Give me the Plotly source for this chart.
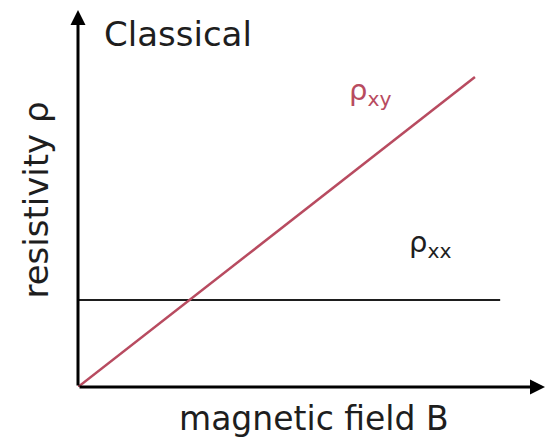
import plotly.graph_objects as go

# Field values and resistivities (arbitrary units)
field_xy = [0.0, 0.85]
rho_xy = [0.0, 0.822]
field_xx = [0.0, 0.904]
rho_xx = [0.231, 0.231]

RED = "#b84b60"
INK = "#1e1e1e"
FONT = "DejaVu Sans"

fig = go.Figure()
fig.add_trace(go.Scatter(x=field_xx, y=rho_xx, mode="lines",
                         line=dict(color=INK, width=2), hoverinfo="skip"))
fig.add_trace(go.Scatter(x=field_xy, y=rho_xy, mode="lines",
                         line=dict(color=RED, width=2.5), hoverinfo="skip"))

# Axes drawn as arrows
for tip in [(0, 1), (1, 0)]:
    fig.add_annotation(x=tip[0], y=tip[1], ax=0, ay=0, xref="x", yref="y",
                       axref="x", ayref="y", showarrow=True, arrowhead=2,
                       arrowsize=1.0, arrowwidth=3, arrowcolor="#000000",
                       standoff=0, startstandoff=0, text="")

labels = [
    dict(text="Classical", x=0.214, y=0.937, color=INK, size=34),
    dict(text="ρ<sub>xy</sub>", x=0.625, y=0.783, color=RED, size=29),
    dict(text="ρ<sub>xx</sub>", x=0.753, y=0.38, color=INK, size=29),
    dict(text="magnetic field B", x=0.506, y=-0.084, color=INK, size=33),
]
for lb in labels:
    fig.add_annotation(text=lb["text"], x=lb["x"], y=lb["y"], xref="paper", yref="paper",
                       showarrow=False, xanchor="center", yanchor="middle",
                       font=dict(family=FONT, size=lb["size"], color=lb["color"]))
fig.add_annotation(text="resistivity ρ", x=-0.09, y=0.497, xref="paper", yref="paper",
                   showarrow=False, textangle=-90, xanchor="center", yanchor="middle",
                   font=dict(family=FONT, size=34, color=INK))

fig.update_xaxes(range=[0, 1], visible=False, fixedrange=True)
fig.update_yaxes(range=[0, 1], visible=False, fixedrange=True)
fig.update_layout(width=545, height=440, showlegend=False,
                  margin=dict(l=78, r=0, t=10, b=53, pad=0),
                  plot_bgcolor="white", paper_bgcolor="white")

fig.write_html("out.html")
